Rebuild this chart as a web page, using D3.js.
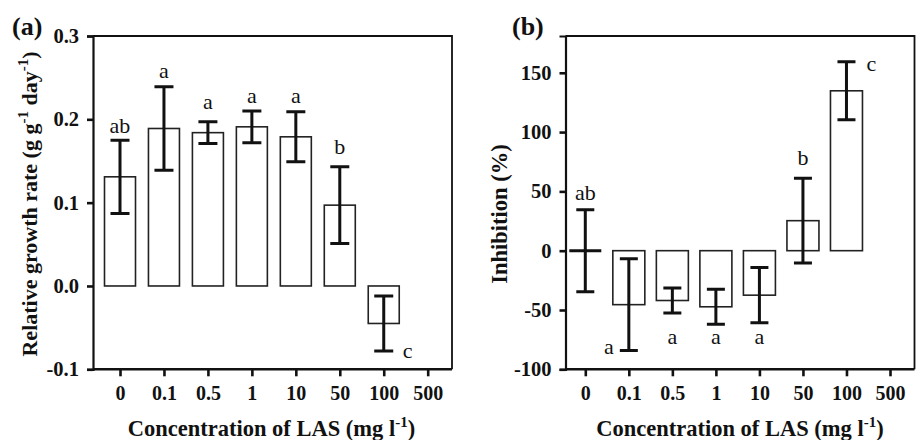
<!DOCTYPE html>
<html><head><meta charset="utf-8">
<script src="https://cdn.jsdelivr.net/npm/d3@7"></script>
<style>
body{margin:0;background:#fff}
svg{display:block}
text{font-family:"Liberation Serif","Times New Roman",serif;fill:#111}
</style>
</head><body>
<svg id="c" width="917" height="440"></svg>
<script>
// ---------- data ----------
const categories = ["0","0.1","0.5","1","10","50","100","500"];

// panel (a): relative growth rate (g g-1 day-1)
const rgrMean    = [0.131, 0.189, 0.184, 0.191, 0.179, 0.097, -0.045, null];
const rgrErr     = [0.044, 0.050, 0.013, 0.019, 0.030, 0.046, 0.033, null];
const rgrLetters = ["ab", "a", "a", "a", "a", "b", "c", ""];
const rgrLetterAt= [0.184, 0.250, 0.212, 0.220, 0.219, 0.158, -0.086, null];
const rgrLetterDx= [0, 0, 0, 0, 0, 0, 24, 0];
const rgrTicks   = [-0.1, 0.0, 0.1, 0.2, 0.3];

// panel (b): inhibition (%)
const inhMean    = [0, -45.5, -42, -47.3, -37.5, 25.3, 134.8, null];
const inhErr     = [34.6, 38.7, 10.5, 14.7, 23.3, 35.7, 24.5, null];
const inhLetters = ["ab", "a", "a", "a", "a", "b", "c", ""];
const inhLetterAt= [42.7, -87, -78.7, -78.7, -78.7, 72.3, 151.5, null];
const inhLetterDx= [0, -20, 0, 0, 0, 0, 25, 0];
const inhTicks   = [-100, -50, 0, 50, 100, 150];

// ---------- drawing ----------
const svg = d3.select("#c");
const hyph = f => v => f(v).replace("\u2212","-");

function panel(cfg){
  const g = svg.append("g");
  const x = d3.scalePoint().domain(categories).range(cfg.xRange);
  const y = d3.scaleLinear().domain(cfg.yDomain).range([cfg.bottom, cfg.top]);

  // frame top/right
  g.append("path")
    .attr("d", `M${cfg.left},${cfg.top}H${cfg.right}V${cfg.bottom}`)
    .attr("fill","none").attr("stroke","#111").attr("stroke-width",1.8);

  // x axis
  const xa = g.append("g").attr("transform",`translate(0,${cfg.bottom})`)
    .call(d3.axisBottom(x).tickSize(7).tickSizeOuter(0).tickPadding(10));
  xa.select(".domain").remove();
  xa.selectAll(".tick line").attr("stroke","#111").attr("stroke-width",2.6);
  xa.selectAll(".tick text").attr("font-size",20).attr("font-weight","bold")
    .attr("fill","#111").style("font-family",'"Liberation Serif",serif');
  g.append("line").attr("x1",cfg.left).attr("x2",cfg.right)
    .attr("y1",cfg.bottom).attr("y2",cfg.bottom)
    .attr("stroke","#111").attr("stroke-width",2.6);

  // y axis
  const ya = g.append("g").attr("transform",`translate(${cfg.left},0)`)
    .call(d3.axisLeft(y).tickValues(cfg.ticks).tickFormat(hyph(cfg.fmt))
      .tickSize(6).tickSizeOuter(6).tickPadding(8));
  ya.select(".domain").attr("stroke","#111").attr("stroke-width",2.2);
  ya.selectAll(".tick line").attr("stroke","#111").attr("stroke-width",2.6);
  ya.selectAll(".tick text").attr("font-size",20.5).attr("font-weight","bold")
    .attr("fill","#111").style("font-family",'"Liberation Serif",serif');

  const idx = d3.range(categories.length).filter(i => cfg.mean[i] !== null);
  const bw = cfg.barW;

  // bars
  idx.forEach(i => {
    const v = cfg.mean[i];
    const cx = x(categories[i]);
    if (v === 0) {
      g.append("line").attr("x1",cx-bw/2).attr("x2",cx+bw/2)
        .attr("y1",y(0)).attr("y2",y(0))
        .attr("stroke","#111").attr("stroke-width",3);
    } else {
      g.append("rect")
        .attr("x",cx-bw/2).attr("width",bw)
        .attr("y",Math.min(y(v),y(0))).attr("height",Math.abs(y(v)-y(0)))
        .attr("fill","#fff").attr("stroke","#222").attr("stroke-width",1.6);
    }
  });

  // error bars
  const cap = cfg.capW;
  idx.forEach(i => {
    const cx = x(categories[i]);
    const hi = y(cfg.mean[i] + cfg.err[i]);
    const lo = y(cfg.mean[i] - cfg.err[i]);
    g.append("path")
      .attr("d",`M${cx},${hi}V${lo}M${cx-cap/2},${hi}H${cx+cap/2}M${cx-cap/2},${lo}H${cx+cap/2}`)
      .attr("fill","none").attr("stroke","#111").attr("stroke-width",3);
  });

  // significance letters
  idx.forEach(i => {
    if (!cfg.letters[i]) return;
    g.append("text")
      .attr("x", x(categories[i]) + cfg.letterDx[i])
      .attr("y", y(cfg.letterAt[i]))
      .attr("text-anchor","middle")
      .attr("font-size",22)
      .text(cfg.letters[i]);
  });

  // y title
  const yt = svg.append("text")
    .attr("transform",`translate(${cfg.yTitleX},${cfg.yTitleY}) rotate(-90)`)
    .attr("text-anchor","middle").attr("font-size",cfg.yTitleSize).attr("font-weight","bold");
  cfg.yTitle.forEach(p => {
    yt.append("tspan").attr("dy",p.dy||0).attr("font-size",p.sup?15:null).text(p.t);
  });

  // x title
  const xt = svg.append("text")
    .attr("x",cfg.xTitleX).attr("y",436)
    .attr("text-anchor","middle").attr("font-size",22.5).attr("font-weight","bold");
  [{t:"Concentration of LAS (mg l"},{t:"-1",sup:true,dy:-9},{t:")",dy:9}].forEach(p => {
    xt.append("tspan").attr("dy",p.dy||0).attr("font-size",p.sup?15:null).text(p.t);
  });

  // panel label
  svg.append("text").attr("x",cfg.labelX).attr("y",35)
    .attr("font-size",26).attr("font-weight","bold").text(cfg.label);
}

panel({
  left:93, right:452, top:36, bottom:369.3,
  xRange:[120,427.7], yDomain:[-0.1,0.3], ticks:rgrTicks, fmt:d3.format(".1f"),
  mean:rgrMean, err:rgrErr, letters:rgrLetters, letterAt:rgrLetterAt, letterDx:rgrLetterDx,
  barW:31, capW:19,
  yTitleX:36.5, yTitleY:204, yTitleSize:22,
  yTitle:[{t:"Relative growth rate (g g"},{t:"-1",sup:true,dy:-9},{t:" day",dy:9},{t:"-1",sup:true,dy:-9},{t:")",dy:9}],
  xTitleX:271.5, label:"(a)", labelX:12
});

panel({
  left:565.5, right:914.5, top:36, bottom:369.3,
  xRange:[585.3,890], yDomain:[-100,181], ticks:inhTicks, fmt:d3.format("d"),
  mean:inhMean, err:inhErr, letters:inhLetters, letterAt:inhLetterAt, letterDx:inhLetterDx,
  barW:32, capW:18,
  yTitleX:506.5, yTitleY:214, yTitleSize:22.5,
  yTitle:[{t:"Inhibition (%)"}],
  xTitleX:740, label:"(b)", labelX:512
});
</script>
</body></html>
